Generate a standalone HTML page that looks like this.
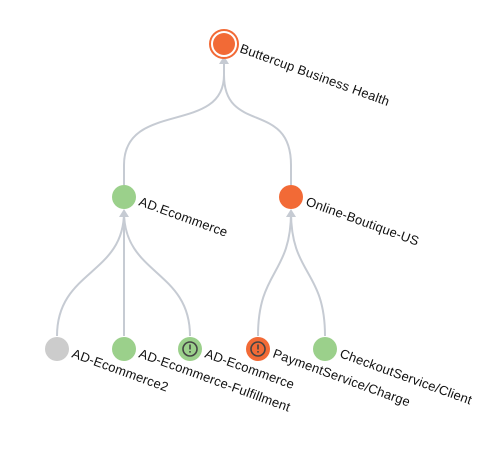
<!DOCTYPE html>
<html><head><meta charset="utf-8"><style>
html,body{margin:0;padding:0;background:#fff;}
text{font-family:"Liberation Sans","DejaVu Sans",sans-serif;font-size:13px;letter-spacing:0.2px;fill:#111;}
</style></head><body>
<svg width="499" height="459" viewBox="0 0 499 459" xmlns="http://www.w3.org/2000/svg">
<g fill="none" stroke="#c6cbd3" stroke-width="2">
<path d="M124,185 L124,165 C124,100 224,135 224,75 L224,62"/>
<path d="M291,185 L291,165 C291,100 224,135 224,75 L224,62"/>
<path d="M57,336 C57,270 124,275 124,212"/>
<path d="M124,336 L124,212"/>
<path d="M190,336 C190,270 124,275 124,212"/>
<path d="M258,336 C258,270 291,275 291,212"/>
<path d="M325,336 C325,270 291,275 291,212"/>
</g>
<path d="M219,64 L224,56 L229,64 Z" fill="#c6cbd3"/>
<path d="M119,217 L124,209 L129,217 Z" fill="#c6cbd3"/>
<path d="M286,217 L291,209 L296,217 Z" fill="#c6cbd3"/>
<circle cx="224" cy="44" r="14" fill="#fff" stroke="#f26a36" stroke-width="2"/>
<circle cx="224" cy="44" r="11" fill="#f26a36"/>
<circle cx="124" cy="197" r="12" fill="#9bd08b"/>
<circle cx="291" cy="197" r="12" fill="#f26a36"/>
<circle cx="57" cy="349" r="12" fill="#cccccc"/>
<circle cx="124" cy="349" r="12" fill="#9bd08b"/>
<circle cx="190" cy="349" r="12" fill="#9bd08b"/>
<circle cx="190" cy="349" r="7" fill="none" stroke="#444" stroke-width="1.6"/>
<rect x="189.2" y="344.5" width="1.6" height="5" fill="#444"/><rect x="189.2" y="351" width="1.6" height="1.6" fill="#444"/>
<circle cx="258" cy="349" r="12" fill="#f26a36"/>
<circle cx="258" cy="349" r="7" fill="none" stroke="#444" stroke-width="1.6"/>
<rect x="257.2" y="344.5" width="1.6" height="5" fill="#444"/><rect x="257.2" y="351" width="1.6" height="1.6" fill="#444"/>
<circle cx="325" cy="349" r="12" fill="#9bd08b"/>
<text transform="translate(239,52) rotate(20)">Buttercup Business Health</text>
<text transform="translate(138,205) rotate(20)">AD.Ecommerce</text>
<text transform="translate(305,205) rotate(20)">Online-Boutique-US</text>
<text transform="translate(71,357) rotate(20)">AD-Ecommerce2</text>
<text transform="translate(138,357) rotate(20)">AD-Ecommerce-Fulfillment</text>
<text transform="translate(204,357) rotate(20)">AD-Ecommerce</text>
<text transform="translate(272,357) rotate(20)">PaymentService/Charge</text>
<text transform="translate(339,357) rotate(20)">CheckoutService/Client</text>
</svg>
</body></html>
